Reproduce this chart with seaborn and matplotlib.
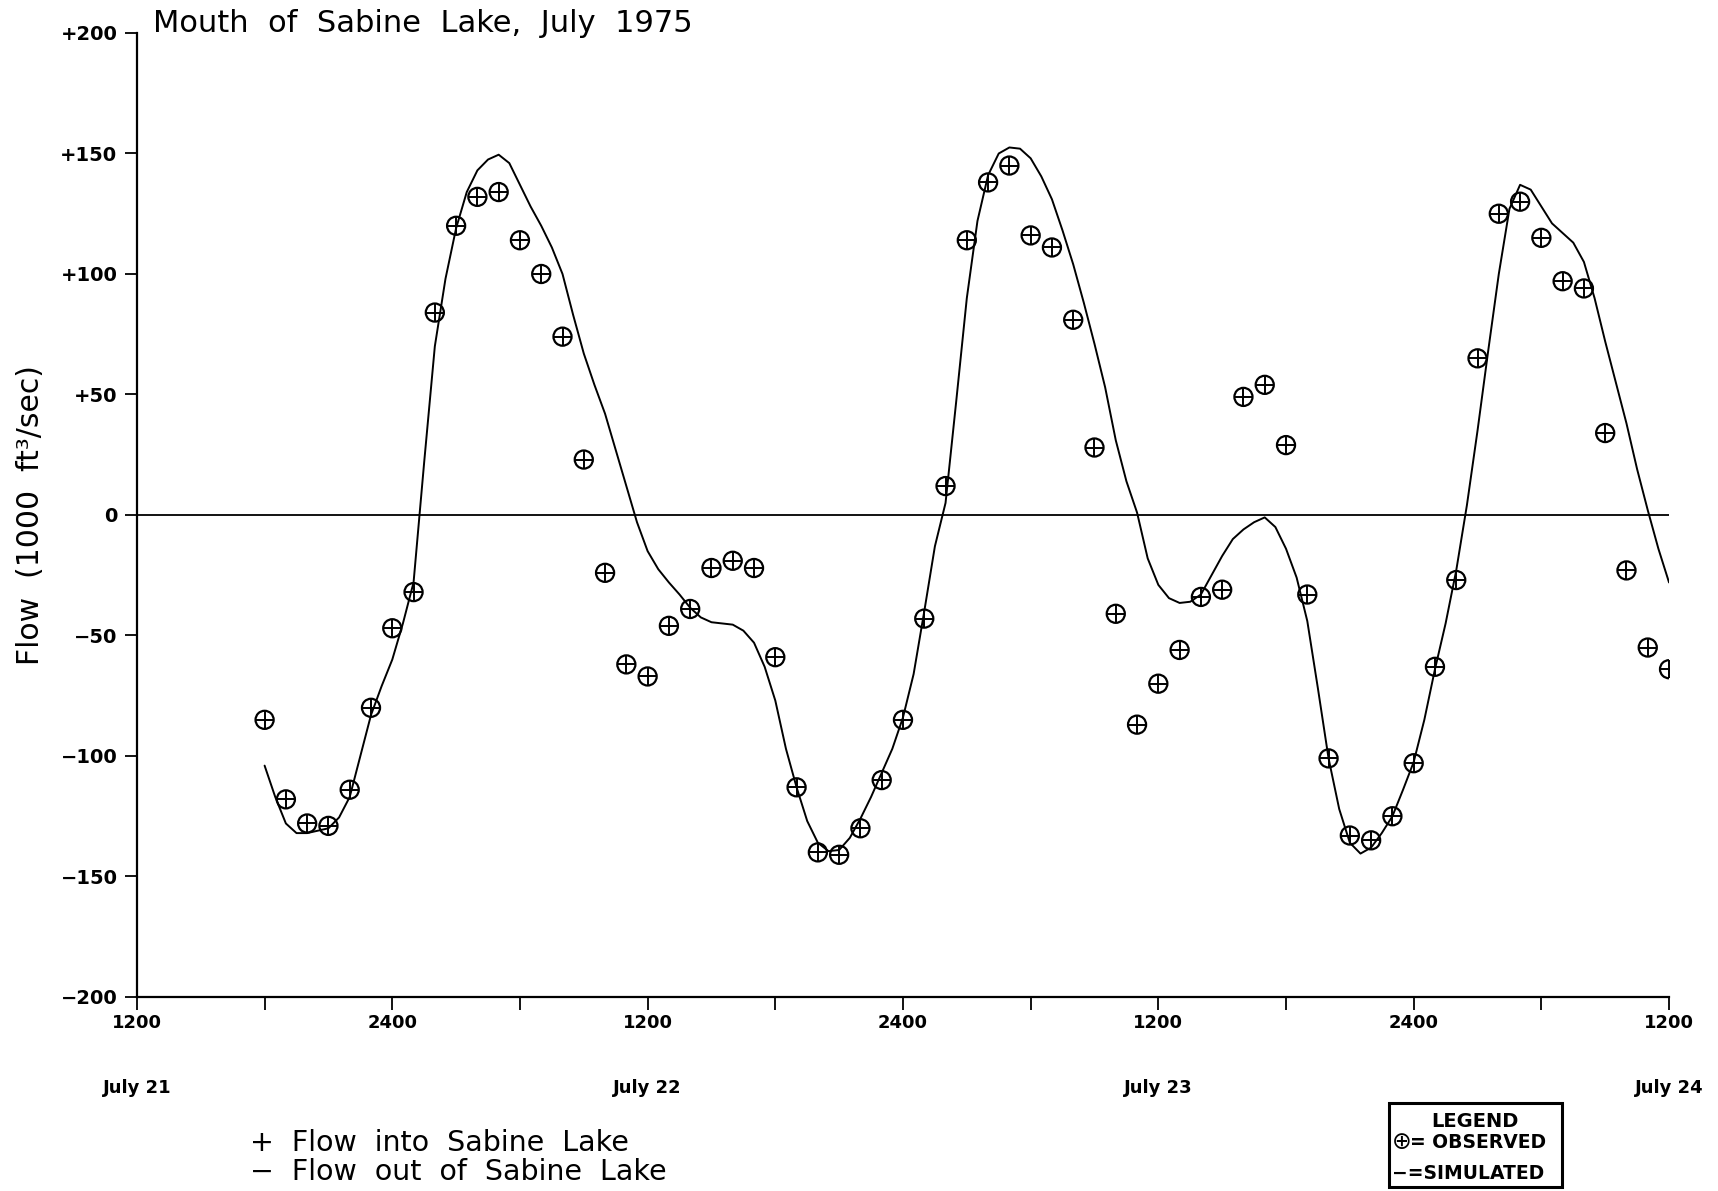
import numpy as np
import matplotlib
matplotlib.use("Agg")
import matplotlib.pyplot as plt
import matplotlib.patches as mpatches
import matplotlib.transforms as mtransforms
import seaborn as sns

# -----------------------------
# Data (hours after 1200 July 21, flow in 1000 ft3/sec)
# -----------------------------
obs_hours = np.arange(6, 73)
obs_flow = [-85, -118, -128, -129, -114, -80, -47, -32, 84, 120,
            132, 134, 114, 100, 74, 23, -24, -62, -67, -46,
            -39, -22, -19, -22, -59, -113, -140, -141, -130, -110,
            -85, -43, 12, 114, 138, 145, 116, 111, 81, 28,
            -41, -87, -70, -56, -34, -31, 49, 54, 29, -33,
            -101, -133, -135, -125, -103, -63, -27, 65, 125, 130,
            115, 97, 94, 34, -23, -55, -64]

sim_hours = np.arange(6, 72.5, 0.5)
sim_flow = [-104, -117, -128, -132, -132, -131, -130, -125.5, -117, -100,
            -83, -71, -60, -45, -28, 22, 70, 98, 119, 134,
            143, 147.5, 149.5, 146, 137, 128, 120, 111, 100, 83,
            67, 54, 42, 27, 12, -3, -15, -22.5, -28, -33,
            -38.5, -42.5, -44.5, -45, -45.5, -48, -53, -63, -77, -97,
            -113, -127, -136, -139.5, -139, -134, -126, -117, -107, -97,
            -84, -66, -40, -13, 5, 47, 90, 122, 141, 150,
            152.5, 152, 148, 140.5, 131, 118, 104, 88, 71, 53,
            31, 14, 1, -18, -29, -34.5, -36.5, -36, -33, -25,
            -17, -10, -6, -3, -1, -5, -14, -26, -44, -72,
            -101, -122, -136, -140.5, -138, -132, -125, -114, -102.5, -85,
            -64, -45, -23, 4, 35, 68, 100, 127, 137, 135,
            128, 121, 117, 113, 105, 90, 72, 55, 38, 19,
            2, -14, -28]

x_ticks = [0, 6, 12, 18, 24, 30, 36, 42, 48, 54, 60, 66, 72]
x_ticklabels = ['1200', '', '2400', '', '1200', '', '2400', '', '1200', '', '2400', '', '1200']
y_ticks = [-200, -150, -100, -50, 0, 50, 100, 150, 200]
y_ticklabels = ['\u2212200', '\u2212150', '\u2212100', '\u221250', '0', '+50', '+100', '+150', '+200']
date_hours = [0, 24, 48, 72]
date_labels = ['July 21', 'July 22', 'July 23', 'July 24']

# -----------------------------
# Figure
# -----------------------------
sns.set_style('ticks')
plt.rcParams['font.family'] = ['DejaVu Sans']
plt.rcParams['text.color'] = 'black'
plt.rcParams['xtick.labelcolor'] = 'black'
plt.rcParams['ytick.labelcolor'] = 'black'

fig = plt.figure(figsize=(17.18, 11.91), dpi=100)
ax = fig.add_axes([0.0797, 0.1629, 0.8918, 0.8094])

ax.axhline(0, color='black', lw=1.3, zorder=1)
sns.lineplot(x=sim_hours, y=sim_flow, color='black', lw=1.4, ax=ax, zorder=2)
sns.scatterplot(x=obs_hours, y=obs_flow, marker='o', s=170, facecolors='none',
                edgecolors='black', linewidths=1.6, ax=ax, zorder=3)
sns.scatterplot(x=obs_hours, y=obs_flow, marker='+', s=170, color='black',
                linewidth=1.4, ax=ax, zorder=3)

ax.set_xlim(0, 72)
ax.set_ylim(-200, 200)
ax.set_xticks(x_ticks)
ax.set_xticklabels(x_ticklabels, fontsize=13, fontweight='semibold', color='black')
ax.set_yticks(y_ticks)
ax.set_yticklabels(y_ticklabels, fontsize=14, fontweight='semibold', color='black')
ax.tick_params(axis='both', direction='out', length=9, width=1.3, color='black')
ax.tick_params(axis='y', pad=5)
ax.tick_params(axis='x', pad=3)
for side in ['top', 'right']:
    ax.spines[side].set_visible(False)
for side in ['left', 'bottom']:
    ax.spines[side].set_linewidth(1.6)
    ax.spines[side].set_color('black')
ax.set_xlabel('')
ax.set_ylabel('')

# date labels under the noon ticks
trans = mtransforms.blended_transform_factory(ax.transData, ax.transAxes)
for h, lab in zip(date_hours, date_labels):
    ax.text(h, -0.094, lab, transform=trans, ha='center', va='center',
            fontsize=13, fontweight='bold', color='black', clip_on=False)

# titles and labels
fig.text(0.089, 0.9805, 'Mouth  of  Sabine  Lake,  July  1975', fontsize=22,
         ha='left', va='center', color='black')
fig.text(0.0179, 0.5676, 'Flow  (1000  ft\u00b3/sec)', fontsize=21.5, rotation=90,
         ha='center', va='center', color='black')
fig.text(0.1455, 0.0403, '+  Flow  into  Sabine  Lake', fontsize=20.5,
         ha='left', va='center', color='black')
fig.text(0.1455, 0.0163, '\u2212  Flow  out  of  Sabine  Lake', fontsize=20.5,
         ha='left', va='center', color='black')

# -----------------------------
# Legend box
# -----------------------------
box = mpatches.Rectangle((0.8085, 0.0034), 0.1007, 0.0705, transform=fig.transFigure,
                         fill=False, edgecolor='black', lw=2.2)
fig.patches.append(box)
fig.text(0.8585, 0.0585, 'LEGEND', fontsize=14, fontweight='bold', ha='center', va='center')
fig.text(0.8100, 0.0411, '\u2295', fontsize=17, ha='left', va='center')
fig.text(0.8205, 0.0411, '= OBSERVED', fontsize=13.5, fontweight='bold', ha='left', va='center')
fig.text(0.8105, 0.0151, '\u2212=SIMULATED', fontsize=13.5, fontweight='bold', ha='left', va='center')

fig.savefig('out.png', dpi=100, facecolor='white')
plt.close(fig)
